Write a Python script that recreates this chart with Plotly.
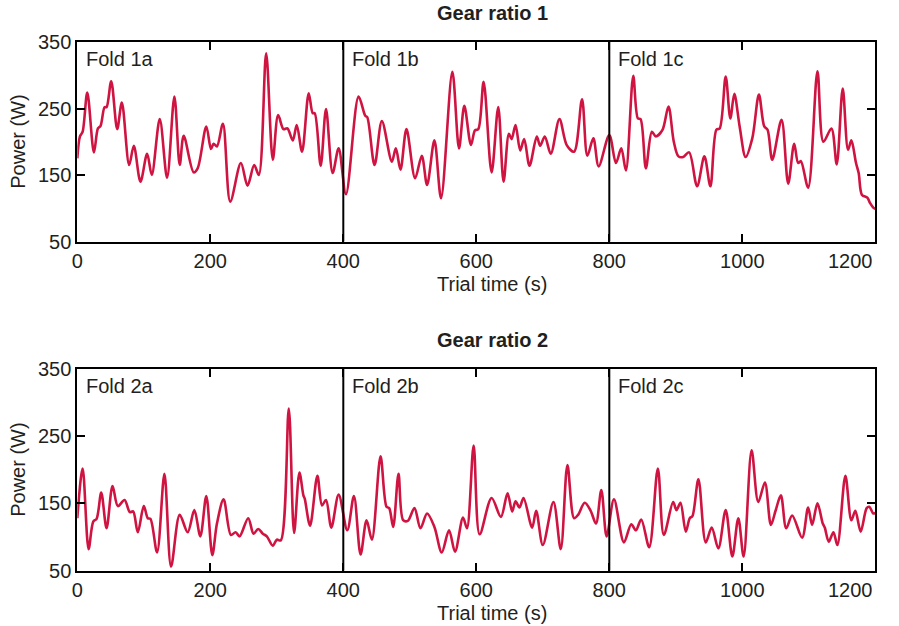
import plotly.graph_objects as go

# Gear ratio 1: trial time (s) and power (W)
time1 = [0, 4, 8, 15, 25, 31, 35, 41, 44, 51, 60, 67, 78, 85, 95, 105, 112, 124, 135, 146,
         154, 160, 175, 181, 194, 201, 205, 210, 219, 230, 246, 256, 266, 273, 284, 294, 302,
         310, 316, 324, 330, 338, 348, 354, 357, 366, 374, 384, 393, 404, 423, 433, 436, 447,
         458, 473, 479, 486, 495, 508, 518, 526, 537, 547, 564, 574, 582, 592, 598, 603, 611,
         623, 633, 641, 649, 653, 659, 666, 672, 680, 691, 696, 703, 712, 725, 736, 747, 759,
         767, 776, 784, 800, 810, 818, 825, 836, 843, 847, 855, 864, 870, 880, 889, 897, 904,
         911, 920, 932, 943, 952, 961, 966, 975, 982, 988, 996, 1005, 1015, 1025, 1033, 1038,
         1045, 1059, 1069, 1078, 1084, 1088, 1099, 1113, 1122, 1134, 1142, 1151, 1159, 1164,
         1171, 1175, 1180, 1188, 1192, 1197, 1200]
power1 = [175, 208, 215, 274, 184, 220, 224, 252, 252, 291, 219, 259, 165, 194, 140, 182, 150,
          234, 146, 268, 165, 209, 154, 160, 223, 189, 197, 193, 227, 110, 168, 134, 165, 150,
          333, 173, 240, 219, 220, 202, 225, 185, 273, 243, 243, 164, 249, 153, 190, 121, 268,
          239, 237, 165, 231, 170, 190, 158, 219, 145, 179, 135, 202, 115, 305, 190, 254, 195,
          217, 219, 290, 154, 252, 140, 212, 204, 225, 187, 204, 164, 208, 194, 208, 182, 234,
          195, 185, 264, 179, 205, 163, 210, 168, 190, 157, 299, 235, 234, 160, 215, 208, 218,
          253, 200, 178, 177, 184, 133, 178, 133, 218, 220, 298, 235, 272, 223, 177, 205, 271,
          223, 218, 173, 233, 137, 197, 168, 171, 131, 306, 200, 220, 166, 280, 188, 202, 168,
          153, 120, 116, 108, 101, 99]

# Gear ratio 2: trial time (s) and power (W)
time2 = [0, 8, 17, 24, 29, 36, 44, 53, 61, 71, 79, 84, 91, 100, 106, 110, 120, 131, 141, 154,
         166, 176, 185, 194, 203, 210, 220, 231, 238, 244, 257, 265, 272, 279, 285, 294, 300,
         306, 318, 326, 334, 340, 342, 350, 361, 368, 374, 382, 393, 406, 416, 426, 435, 443,
         456, 465, 469, 475, 483, 490, 497, 507, 516, 526, 537, 548, 559, 568, 580, 586, 596,
         605, 623, 637, 647, 654, 659, 665, 671, 684, 690, 700, 716, 727, 737, 747, 753, 763,
         772, 780, 788, 796, 807, 822, 833, 840, 848, 860, 873, 882, 896, 901, 907, 915, 921,
         925, 934, 945, 954, 964, 975, 985, 994, 1002, 1014, 1024, 1034, 1043, 1050, 1058, 1066,
         1075, 1090, 1099, 1105, 1113, 1121, 1124, 1130, 1137, 1143, 1155, 1164, 1170, 1178,
         1187, 1191, 1197, 1200]
power2 = [128, 202, 82, 123, 127, 166, 113, 176, 146, 155, 137, 138, 107, 146, 128, 127, 77,
          194, 56, 133, 107, 140, 101, 161, 73, 120, 156, 103, 107, 101, 128, 105, 112, 105, 101,
          87, 96, 95, 291, 106, 196, 162, 157, 117, 191, 147, 155, 114, 163, 110, 161, 74, 125,
          96, 220, 145, 143, 115, 194, 125, 124, 143, 113, 135, 115, 77, 110, 78, 129, 113, 236,
          104, 158, 130, 165, 138, 153, 144, 158, 114, 139, 88, 152, 82, 207, 128, 133, 151, 139,
          120, 170, 101, 156, 92, 119, 110, 126, 85, 202, 103, 152, 140, 151, 108, 128, 131, 186,
          92, 114, 83, 140, 71, 128, 71, 229, 152, 181, 118, 139, 162, 113, 132, 99, 144, 118,
          150, 120, 114, 93, 107, 88, 191, 125, 139, 108, 143, 145, 135, 136]

titles = ["Gear ratio 1", "Gear ratio 2"]
fold_labels = [["Fold 1a", "Fold 1b", "Fold 1c"], ["Fold 2a", "Fold 2b", "Fold 2c"]]
fold_starts = [0, 400, 800]
x_ticks = [0, 200, 400, 600, 800, 1000, 1200]
y_ticks = [50, 150, 250, 350]
x_title = "Trial time (s)"
y_title = "Power (W)"

W, H = 899, 626
FONT = "Liberation Sans, Arial, Helvetica, sans-serif"
TEXT = "#231f20"
LINE = "#cf1442"

# panel placement in pixels (left, right, top, bottom)
px_left, px_right = 77.3, 875.3
panels = [(42.0, 241.5), (369.0, 570.6)]


def fx(px):
    return px / W


def fy(py):
    return 1 - py / H


fig = go.Figure()
fig.add_trace(go.Scatter(x=time1, y=power1, mode="lines", xaxis="x", yaxis="y",
                         line=dict(color=LINE, width=2.6, shape="spline", smoothing=0.9),
                         showlegend=False))
fig.add_trace(go.Scatter(x=time2, y=power2, mode="lines", xaxis="x2", yaxis="y2",
                         line=dict(color=LINE, width=2.6, shape="spline", smoothing=0.9),
                         showlegend=False))

axis_common = dict(showline=True, linecolor="black", linewidth=2, mirror="ticks",
                   ticks="inside", ticklen=8, tickwidth=2, tickcolor="black",
                   showgrid=False, zeroline=False, automargin=False,
                   tickfont=dict(family=FONT, size=20, color=TEXT))

layout = dict(width=W, height=H, margin=dict(l=0, r=0, t=0, b=0),
              plot_bgcolor="white", paper_bgcolor="white", showlegend=False)

# the last x label sits flush with the right frame edge, so it is drawn separately
x_ticktext = [str(v) for v in x_ticks[:-1]] + [""]

annotations = []
shapes = []
for i, (top, bot) in enumerate(panels):
    sfx = "" if i == 0 else str(i + 1)
    xa = dict(axis_common, domain=[fx(px_left), fx(px_right)], range=[0, 1200],
              tickvals=x_ticks, ticktext=x_ticktext, anchor="y" + sfx)
    ya = dict(axis_common, domain=[fy(bot), fy(top)], range=[50, 350],
              tickvals=y_ticks, anchor="x" + sfx)
    layout["xaxis" + sfx] = xa
    layout["yaxis" + sfx] = ya

    annotations.append(dict(text=str(x_ticks[-1]), xref="x" + sfx, yref="paper",
                            x=x_ticks[-1], y=fy(bot + 19.5), xanchor="right",
                            yanchor="middle", showarrow=False,
                            font=dict(family=FONT, size=20, color=TEXT)))

    # fold boundaries
    for xs in fold_starts[1:]:
        shapes.append(dict(type="line", xref="x" + sfx, yref="y" + sfx + " domain",
                           x0=xs, x1=xs, y0=0, y1=1,
                           line=dict(color="black", width=2)))
    # fold names
    for xs, lab in zip(fold_starts, fold_labels[i]):
        annotations.append(dict(text=lab, xref="x" + sfx, yref="paper", x=xs,
                                y=fy(top + 17), xanchor="left", yanchor="middle",
                                xshift=7, showarrow=False,
                                font=dict(family=FONT, size=20, color=TEXT)))
    # panel title
    annotations.append(dict(text="<b>" + titles[i] + "</b>", xref="paper", yref="paper",
                            x=fx(492), y=fy(top - 29), xanchor="center", yanchor="middle",
                            showarrow=False, font=dict(family=FONT, size=20, color=TEXT)))
    # axis titles
    annotations.append(dict(text=x_title, xref="paper", yref="paper",
                            x=fx(492), y=fy(bot + 42), xanchor="center", yanchor="middle",
                            showarrow=False, font=dict(family=FONT, size=20, color=TEXT)))
    annotations.append(dict(text=y_title, xref="paper", yref="paper", textangle=-90,
                            x=fx(18), y=fy((top + bot) / 2), xanchor="center",
                            yanchor="middle", showarrow=False,
                            font=dict(family=FONT, size=20, color=TEXT)))

layout["annotations"] = annotations
layout["shapes"] = shapes
fig.update_layout(**layout)

fig.write_html("out.html")
